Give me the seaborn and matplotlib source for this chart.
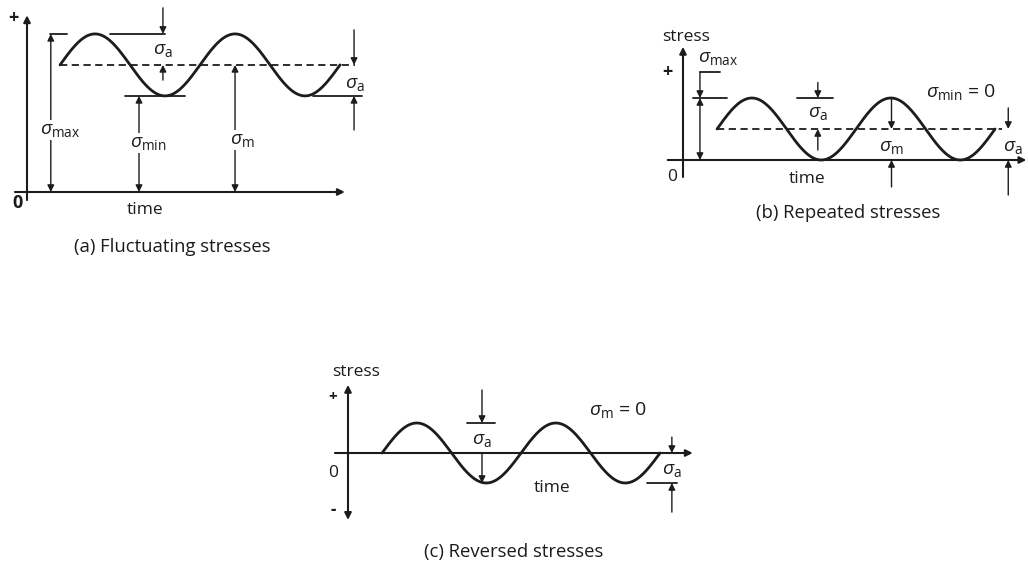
import numpy as np
import pandas as pd
import matplotlib
matplotlib.use('Agg')
import matplotlib.pyplot as plt
import seaborn as sns

# Wave parameters per panel (stress in units of sigma_a, time in cycles)
panels = ['a', 'b', 'c']
sigma_m = [4.1, 1.0, 0.0]
sigma_a = [1.0, 1.0, 1.0]
t_start = [0.236, 0.245, 0.245]
cycles = [2, 2, 2]
captions = ['(a) Fluctuating stresses', '(b) Repeated stresses', '(c) Reversed stresses']

sns.set_theme(style='white')
plt.rcParams['font.family'] = ['Open Sans', 'DejaVu Sans']
plt.rcParams['mathtext.fontset'] = 'custom'
plt.rcParams['mathtext.rm'] = 'Open Sans'
plt.rcParams['mathtext.it'] = 'Open Sans:italic'
plt.rcParams['mathtext.bf'] = 'Open Sans:bold'

INK = '#1c1c1c'
W, H = 1028, 565
fig = plt.figure(figsize=(W / 100, H / 100), dpi=100)

SIG = 14
TXT = 12.5
CAP = 13.3


def panel(box, origin, unit_t, unit_s):
    x0, y0, x1, y1 = box
    ax = fig.add_axes([x0 / W, 1 - y1 / H, (x1 - x0) / W, (y1 - y0) / H])
    ox, oy = origin
    ax.set_xlim((x0 - ox) / unit_t, (x1 - ox) / unit_t)
    ax.set_ylim((oy - y1) / unit_s, (oy - y0) / unit_s)
    ax.axis('off')
    return ax


def arrow(ax, x0, y0, x1, y1, style='-|>', lw=1.0, ms=10):
    ax.annotate('', xy=(x1, y1), xytext=(x0, y0),
                arrowprops=dict(arrowstyle=style, color=INK, lw=lw,
                                mutation_scale=ms, shrinkA=0, shrinkB=0))


def varrow(ax, x, y0, y1, both=False):
    arrow(ax, x, y0, x, y1, style='<|-|>' if both else '-|>')


def hline(ax, y, x0, x1):
    ax.plot([x0, x1], [y, y], color=INK, lw=1.3)


def sig(ax, x, y, sub, extra='', blank=True):
    s = r'$\sigma_{\rm ' + sub + '}$' + extra
    kw = dict(bbox=dict(fc='white', ec='none', pad=0.5)) if blank else {}
    ax.text(x, y, s, fontsize=SIG, ha='center', va='center', color=INK, **kw)


def txt(ax, x, y, s, size=TXT, weight='normal'):
    ax.text(x, y, s, fontsize=size, ha='center', va='center', color=INK, fontweight=weight)


def wave(ax, i, dash_end):
    t = np.linspace(t_start[i], t_start[i] + cycles[i], 400)
    df = pd.DataFrame({'time': t,
                       'stress': sigma_m[i] + sigma_a[i] * np.sin(2 * np.pi * (t - t_start[i]))})
    sns.lineplot(data=df, x='time', y='stress', ax=ax, color=INK, lw=2.0, sort=False)
    if dash_end is not None:
        ax.plot([t_start[i], dash_end], [sigma_m[i]] * 2, color=INK, lw=1.3, ls=(0, (4, 2.5)))


# ---- (a) fluctuating ----
i = 0
ax = panel((0, 0, 380, 265), (27, 192), 140, 31)
m, a = sigma_m[i], sigma_a[i]
smax, smin = m + a, m - a
arrow(ax, 0, -0.26, 0, 5.7, lw=1.5)
arrow(ax, -0.086, 0, 2.27, 0, lw=1.5)
wave(ax, i, 2.34)
hline(ax, smax, 0.164, 0.286)
varrow(ax, 0.17, 0, smax, both=True)
sig(ax, 0.236, 2.0, 'max')
hline(ax, smax, 0.593, 0.986)
varrow(ax, 0.971, 5.94, smax)
sig(ax, 0.97, 4.58, 'a', blank=False)
varrow(ax, 0.971, 3.61, m)
hline(ax, smin, 0.70, 1.13)
varrow(ax, 0.80, 0, smin, both=True)
sig(ax, 0.864, 1.58, 'min')
varrow(ax, 1.486, 0, m, both=True)
sig(ax, 1.54, 1.68, 'm')
varrow(ax, 2.336, 5.23, m)
varrow(ax, 2.336, 2.0, smin)
hline(ax, smin, 2.04, 2.39)
sig(ax, 2.34, 3.5, 'a', blank=False)
txt(ax, 0.84, -0.58, 'time')
txt(ax, -0.07, -0.35, '0', size=13, weight='bold')
txt(ax, -0.1, 5.6, '+', size=13, weight='bold')
txt(ax, 1.036, -1.77, captions[i], size=CAP)

# ---- (b) repeated ----
i = 1
ax = panel((640, 20, 1028, 232), (683, 160), 139, 31)
m, a = sigma_m[i], sigma_a[i]
smax, smin = m + a, m - a
arrow(ax, 0, -0.55, 0, 3.65, lw=1.5)
arrow(ax, -0.11, 0, 2.47, 0, lw=1.5)
wave(ax, i, 2.295)
hline(ax, 2.84, 0.122, 0.266)
varrow(ax, 0.122, 2.84, smax)
hline(ax, smax, 0.07, 0.32)
varrow(ax, 0.122, 0, smax, both=True)
sig(ax, 0.25, 3.29, 'max', blank=False)
hline(ax, smax, 0.82, 1.08)
varrow(ax, 0.97, 2.5, smax)
sig(ax, 0.97, 1.52, 'a', blank=False)
varrow(ax, 0.97, 0.32, m)
sig(ax, 2.0, 2.19, 'min', ' = 0', blank=False)
varrow(ax, 1.5, smax, m)
sig(ax, 1.5, 0.42, 'm', blank=False)
varrow(ax, 1.5, -0.87, 0)
varrow(ax, 2.34, 1.68, m)
sig(ax, 2.37, 0.42, 'a', blank=False)
varrow(ax, 2.34, -1.13, 0)
txt(ax, 0.89, -0.6, 'time')
txt(ax, 0.02, 3.97, 'stress')
txt(ax, -0.11, 2.84, '+', size=13, weight='bold')
txt(ax, -0.08, -0.55, '0')
txt(ax, 1.19, -1.71, captions[i], size=CAP)

# ---- (c) reversed ----
i = 2
ax = panel((310, 355, 710, 565), (348, 453), 139, 30)
m, a = sigma_m[i], sigma_a[i]
smax, smin = m + a, m - a
arrow(ax, 0, -2.23, 0, 2.27, style='<|-|>', lw=1.5)
arrow(ax, -0.094, 0, 2.48, 0, lw=1.5)
wave(ax, i, None)
hline(ax, smax, 0.856, 1.06)
varrow(ax, 0.964, 2.1, smax)
sig(ax, 0.964, 0.43, 'a', blank=False)
varrow(ax, 0.964, 0, smin)
sig(ax, 1.94, 1.43, 'm', ' = 0', blank=False)
varrow(ax, 2.33, 0.53, 0)
sig(ax, 2.33, -0.57, 'a', blank=False)
hline(ax, smin, 2.15, 2.37)
varrow(ax, 2.33, -1.97, smin)
txt(ax, 1.47, -1.17, 'time')
txt(ax, 0.06, 2.7, 'stress')
txt(ax, -0.11, 1.87, '+', size=11, weight='bold')
txt(ax, -0.11, -0.67, '0')
txt(ax, -0.11, -1.9, '-', size=12, weight='bold')
txt(ax, 1.19, -3.3, captions[i], size=CAP)

fig.savefig('out.png', dpi=100, facecolor='white')
